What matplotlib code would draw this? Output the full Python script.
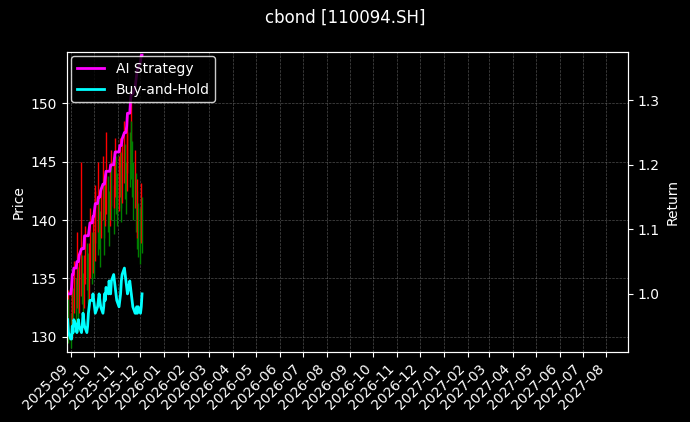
import numpy as np
import pandas as pd
import matplotlib
matplotlib.use("Agg")
import matplotlib.pyplot as plt
import matplotlib.dates as mdates

plt.style.use("dark_background")

dates = pd.bdate_range("2025-08-28", "2025-12-03")

close = [132.5, 131.0,
         130.2, 131.5, 133.0, 132.0, 134.5, 133.0, 135.2, 134.0, 132.8, 134.6, 136.0,
         135.0, 133.5, 134.8, 137.0, 136.2, 135.0, 133.8, 135.5, 137.5, 136.8, 138.0,
         137.2, 139.0, 140.5, 139.2, 141.5, 140.0, 138.6, 140.8, 142.5, 141.0, 139.5,
         141.8, 143.0, 141.6, 140.2, 142.0, 143.8, 142.4, 141.0, 143.5, 144.6, 143.0, 141.8,
         143.2, 144.8, 143.5, 142.0, 144.0, 145.8, 144.2, 142.8, 145.0, 146.5, 145.2,
         147.5, 146.0, 144.5, 142.5, 143.8, 141.5, 140.0, 141.2, 139.0,
         138.5, 140.5, 139.5]
high = [134.0, 133.2,
        132.0, 133.8, 135.0, 134.2, 136.5, 135.0, 139.0, 136.0, 134.5, 136.8, 145.0,
        137.0, 135.5, 137.0, 139.5, 138.0, 137.2, 136.0, 138.0, 141.0, 139.0, 140.5,
        139.0, 143.0, 142.5, 141.8, 145.0, 142.0, 140.8, 142.8, 145.5, 143.2, 141.8,
        144.0, 147.5, 143.8, 142.5, 144.5, 146.0, 144.5, 143.0, 145.8, 147.0, 145.5, 144.0,
        145.5, 147.0, 145.8, 144.5, 146.5, 148.5, 146.5, 145.0, 147.5, 149.0, 147.5,
        150.0, 148.5, 146.8, 145.0, 146.0, 144.0, 142.5, 143.5, 141.5,
        141.0, 143.2, 142.0]
low = [130.5, 129.5,
       129.0, 129.8, 131.0, 130.2, 132.0, 131.0, 132.5, 131.8, 130.5, 132.0, 133.5,
       132.8, 131.2, 132.5, 134.5, 134.0, 132.8, 131.5, 133.0, 135.0, 134.5, 135.5,
       135.0, 136.5, 138.0, 137.0, 139.0, 137.5, 136.0, 138.5, 140.0, 138.5, 137.0,
       139.5, 140.5, 139.0, 137.8, 139.5, 141.2, 140.0, 138.8, 141.0, 142.0, 140.5, 139.5,
       140.8, 142.0, 141.0, 139.8, 141.5, 143.2, 141.8, 140.5, 142.5, 144.0, 142.8,
       144.8, 143.5, 142.0, 140.0, 141.0, 139.0, 137.5, 138.5, 136.8,
       136.2, 138.0, 137.2]

ai_return = [1.00, 1.00, 1.00, 1.01, 1.03, 1.03, 1.04, 1.04, 1.05, 1.05, 1.05, 1.06, 1.07,
             1.07, 1.07, 1.07, 1.09, 1.09, 1.09, 1.09, 1.10, 1.11, 1.11, 1.12,
             1.12, 1.13, 1.14, 1.14, 1.15, 1.15, 1.15, 1.16, 1.17, 1.17, 1.17, 1.18,
             1.19, 1.19, 1.19, 1.19, 1.20, 1.20, 1.20, 1.21, 1.22, 1.22, 1.22,
             1.22, 1.23, 1.23, 1.23, 1.24, 1.25, 1.25, 1.25, 1.26, 1.28, 1.28, 1.30,
             1.31, 1.31, 1.31, 1.32, 1.33, 1.34, 1.35, 1.35,
             1.36, 1.37, 1.37]
bh_return = [0.96, 0.94, 0.93, 0.93, 0.95, 0.94, 0.96, 0.95, 0.94, 0.95, 0.96, 0.95, 0.94,
             0.95, 0.97, 0.96, 0.95, 0.94, 0.95, 0.97, 0.98, 0.99, 0.99, 1.00,
             0.99, 0.98, 0.97, 0.98, 0.99, 1.00, 0.99, 0.98, 0.97, 0.98, 1.00, 0.99,
             1.01, 1.00, 1.02, 1.01, 1.00, 1.02, 1.03, 1.02, 1.01, 1.00, 0.99,
             0.98, 0.99, 1.00, 1.02, 1.03, 1.04, 1.03, 1.02, 1.01, 1.00, 1.02, 1.01,
             1.00, 0.99, 0.98, 0.97, 0.97, 0.98, 0.97, 0.98,
             0.97, 0.98, 1.00]

opens = [close[0]] + close[:-1]

fig, ax = plt.subplots(figsize=(6.9, 4.22), dpi=100)
fig.patch.set_facecolor("black")
ax.set_facecolor("black")

for d, o, c, h, l in zip(dates, opens, close, high, low):
    col = "red" if c >= o else "green"
    ax.vlines(d, l, h, color=col, linewidth=1)

ax.set_ylabel("Price")
ax.set_ylim(128.7, 154.4)
ax.grid(True, linestyle="--", linewidth=0.5, color="gray", alpha=0.6)

ax2 = ax.twinx()
ax2.plot(dates, ai_return, color="magenta", linewidth=2, label="AI Strategy")
ax2.plot(dates, bh_return, color="cyan", linewidth=2, label="Buy-and-Hold")
ax2.set_ylabel("Return")
ax2.set_ylim(0.91, 1.375)
ax2.set_yticks([1.0, 1.1, 1.2, 1.3])
ax2.legend(loc="upper left", facecolor="black", edgecolor="white",
           borderaxespad=0.3)

ax.set_xlim(pd.Timestamp("2025-08-27"), pd.Timestamp("2027-08-29"))
ax.xaxis.set_major_locator(mdates.MonthLocator())
ax.xaxis.set_major_formatter(mdates.DateFormatter("%Y-%m"))
plt.setp(ax.get_xticklabels(), rotation=45, ha="right")

fig.suptitle("cbond [110094.SH]")
fig.subplots_adjust(left=0.097, right=0.910, top=0.877, bottom=0.166)
plt.savefig("out.png", dpi=100)
